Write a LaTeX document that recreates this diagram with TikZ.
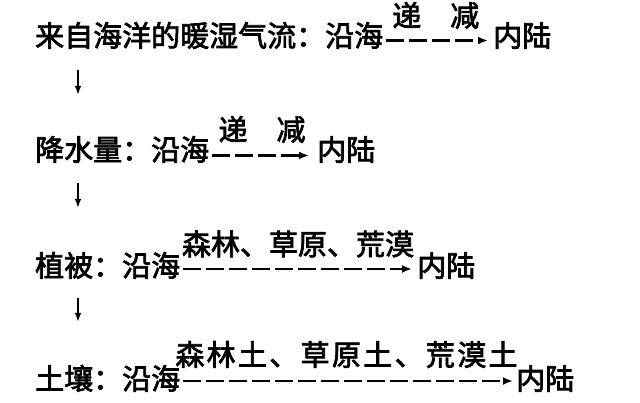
\documentclass[tikz,border=0pt]{standalone}
\usepackage{fontspec}
\newfontfamily\cjk[FakeBold=2.5]{Noto Sans CJK SC}
\usetikzlibrary{arrows.meta}
\begin{document}
\begin{tikzpicture}[x=1pt,y=-1pt,
  txt/.style={inner sep=0pt, font=\cjk\fontsize{29}{30}\selectfont, text height=0.8em, text depth=0.1em},
  flow/.style={line width=2.4pt, dash pattern=on 18pt off 5pt, -{Latex[length=10pt,width=8pt]}, shorten <=3pt, shorten >=5pt},
  down/.style={line width=1.5pt, -{Latex[length=9pt,width=6.5pt]}}]
\useasboundingbox[fill=white] (0,0) rectangle (640,403);
% row 1
\node[txt, anchor=base west] (s1) at (35,46.5) {来自海洋的暖湿气流：沿海};
\node[txt, anchor=base west] (e1) at (493,46.5) {内陆};
\node[txt, anchor=base] (l1) at (435.75,26.5) {递　减};
\draw[flow] ([yshift=2.5pt]s1.east) -- ([yshift=2.5pt]e1.west);
% row 2
\node[txt, anchor=base west] (s2) at (35,160.5) {降水量：沿海};
\node[txt, anchor=base west] (e2) at (317,160.5) {内陆};
\node[txt, anchor=base] (l2) at (262,140.5) {递　减};
\draw[flow, shorten >=8pt] ([yshift=1.5pt]s2.east) -- ([yshift=1.5pt]e2.west);
% row 3
\node[txt, anchor=base west] (s3) at (35,276.5) {植被：沿海};
\node[txt, anchor=base west] (e3) at (417,276.5) {内陆};
\node[txt, anchor=base] (l3) at (298,255) {森林、草原、荒漠};
\draw[flow] ([yshift=4pt]s3.east) -- ([yshift=4pt]e3.west);
% row 4
\node[txt, anchor=base west] (s4) at (35,389.5) {土壤：沿海};
\node[txt, anchor=base west] (e4) at (516,389.5) {内陆};
\node[txt, anchor=base] (l4) at (346.5,365.5) {\addfontfeature{LetterSpace=8}森林土、草原土、荒漠土};
\draw[flow, shorten >=3pt] ([yshift=5pt]s4.east) -- ([yshift=5pt]e4.west);
% down arrows
\coordinate (a1) at (78,70);  \coordinate (b1) at (78,95);
\coordinate (a2) at (78,183); \coordinate (b2) at (78,208);
\coordinate (a3) at (78,298); \coordinate (b3) at (78,322);
\draw[down] (a1) -- (b1);
\draw[down] (a2) -- (b2);
\draw[down] (a3) -- (b3);
\end{tikzpicture}
\end{document}
